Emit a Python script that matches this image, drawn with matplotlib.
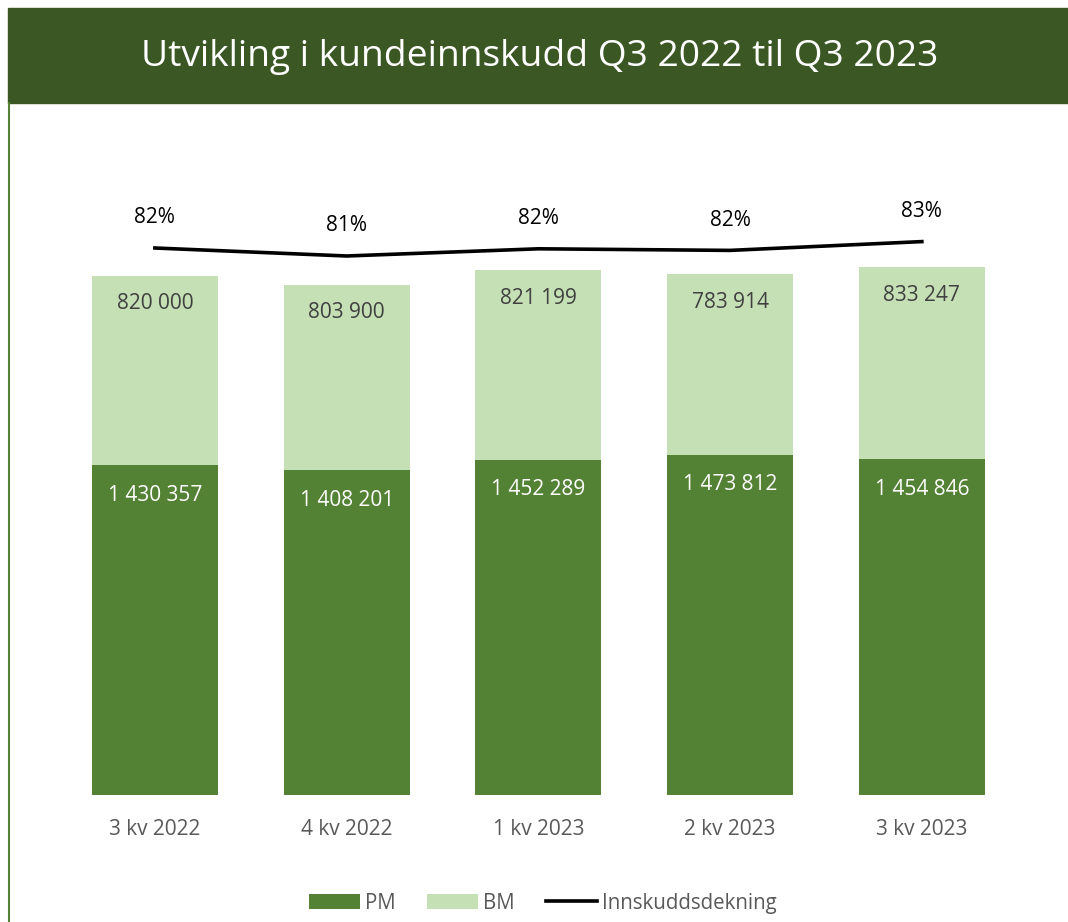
import matplotlib.pyplot as plt
from matplotlib.patches import Rectangle
from matplotlib.lines import Line2D

plt.rcParams['font.family'] = ['Open Sans', 'DejaVu Sans']

categories = ['3 kv 2022', '4 kv 2022', '1 kv 2023', '2 kv 2023', '3 kv 2023']
pm = [1430357, 1408201, 1452289, 1473812, 1454846]
bm = [820000, 803900, 821199, 783914, 833247]
dekning = [0.818, 0.808, 0.817, 0.815, 0.826]

dark = '#3A5724'
pm_col = '#548235'
bm_col = '#C5E0B4'
gray = '#595959'

W, H = 1068, 922
fig = plt.figure(figsize=(W / 100, H / 100), dpi=100)

# title bar and left frame line
fig.patches.append(Rectangle((8 / W, 1 - 103 / H), 1 - 8 / W, 95 / H,
                             transform=fig.transFigure, color=dark, zorder=0))
fig.add_artist(Line2D([9 / W, 9 / W], [0, 1 - 103 / H], color=pm_col, lw=1.5,
                      transform=fig.transFigure))
fig.text(540 / W, 1 - 57 / H, 'Utvikling i kundeinnskudd Q3 2022 til Q3 2023',
         color='white', fontsize=26.7, ha='center', va='center')

ax = fig.add_axes([59 / W, 127 / H, 958.75 / W, 665 / H])
x = list(range(len(categories)))
ax.bar(x, pm, width=0.657, color=pm_col, label='PM')
ax.bar(x, bm, width=0.657, bottom=pm, color=bm_col, label='BM')
ax.set_xlim(-0.5, 4.5)
ax.set_ylim(0, 2.8824e6)
ax.set_xticks(x)
ax.set_xticklabels(categories, color=gray, fontsize=15)
ax.tick_params(axis='x', length=0, pad=17)
ax.set_yticks([])
for s in ax.spines.values():
    s.set_visible(False)


def fmt(v):
    return f'{v:,}'.replace(',', ' ')


for i in x:
    ax.annotate(fmt(pm[i]), (i, pm[i]), xytext=(0, -30), textcoords='offset pixels',
                ha='center', va='center', color='white', fontsize=15)
    ax.annotate(fmt(bm[i]), (i, pm[i] + bm[i]), xytext=(0, -28), textcoords='offset pixels',
                ha='center', va='center', color='#404040', fontsize=15)

ax2 = ax.twinx()
ax2.plot(x, dekning, color='black', lw=2.6, label='Innskuddsdekning')
ax2.set_ylim(0.1342, 0.9655)
ax2.set_yticks([])
for s in ax2.spines.values():
    s.set_visible(False)
for i in x:
    ax2.annotate(f'{dekning[i]:.0%}', (i, dekning[i]), xytext=(0, 30), textcoords='offset pixels',
                 ha='center', va='center', color='black', fontsize=15)

h1, l1 = ax.get_legend_handles_labels()
h2, l2 = ax2.get_legend_handles_labels()
fig.legend(h1 + h2, l1 + l2, loc='center', bbox_to_anchor=(543 / W, 1 - 903 / H), ncol=3,
           frameon=False, fontsize=14.8, labelcolor=gray, handlelength=2.5, handleheight=0.75,
           columnspacing=1.5, handletextpad=0.25)

fig.savefig('out.png', dpi=100)
